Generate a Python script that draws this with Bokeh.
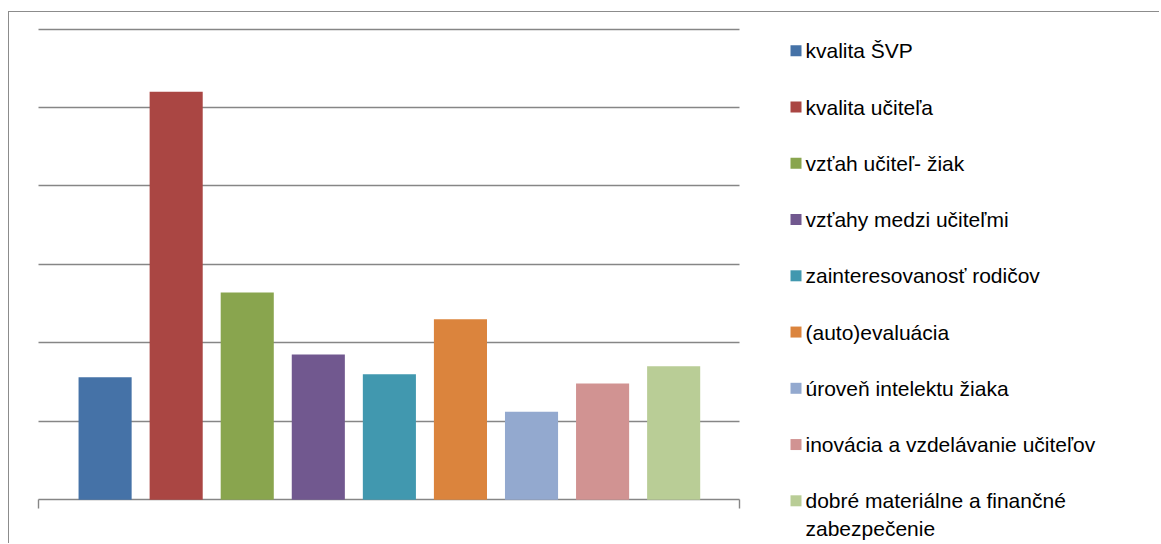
from bokeh.plotting import figure
from bokeh.models import ColumnDataSource, FixedTicker, Range1d, Grid
from bokeh.core.properties import value
from bokeh.embed import file_html
from bokeh.resources import INLINE

# ---- data ----
categories = [
    "kvalita ŠVP",
    "kvalita učiteľa",
    "vzťah učiteľ- žiak",
    "vzťahy medzi učiteľmi",
    "zainteresovanosť rodičov",
    "(auto)evaluácia",
    "úroveň intelektu žiaka",
    "inovácia a vzdelávanie učiteľov",
    "dobré materiálne a finančné zabezpečenie",
]
values = [7.8, 26.0, 13.2, 9.25, 8.0, 11.5, 5.6, 7.4, 8.5]
colors = ["#4572A7", "#AA4643", "#89A54E", "#71588F", "#4198AF",
          "#DB843D", "#93A9CF", "#D19392", "#B9CD96"]
y_ticks = [0, 5, 10, 15, 20, 25, 30]
legend_labels = [
    "kvalita ŠVP",
    "kvalita učiteľa",
    "vzťah učiteľ- žiak",
    "vzťahy medzi učiteľmi",
    "zainteresovanosť rodičov",
    "(auto)evaluácia",
    "úroveň intelektu žiaka",
    "inovácia a vzdelávanie učiteľov",
    "dobré materiálne a finančné\nzabezpečenie",
]

GRID = "#868686"
FONT = "Liberation Sans"

# ---- layout constants (pixels) ----
FW, FH = 1129, 523          # frame size
PX_X = 71.07                # pixels per category step
PX_Y = 15.69                # pixels per value unit
FIRST_C = 74.6              # px from frame left to first bar centre
ZERO_Y = 479.2              # px from frame top to value 0
PLOT_L, PLOT_R = 8.0, 709.3 # px from frame left: plot area edges

x_start = 1 - FIRST_C / PX_X
x_end = x_start + FW / PX_X
y_end = ZERO_Y / PX_Y
y_start = y_end - FH / PX_Y
plot_x0 = x_start + PLOT_L / PX_X
plot_x1 = x_start + PLOT_R / PX_X

src = ColumnDataSource(dict(
    x=list(range(1, len(values) + 1)),
    value=values,
    color=colors,
    name=categories,
))

p = figure(frame_width=FW, frame_height=FH,
           x_range=Range1d(x_start, x_end), y_range=Range1d(y_start, y_end),
           x_axis_location=None, y_axis_location=None,
           output_backend="svg", toolbar_location=None,
           min_border_left=21, min_border_right=0,
           min_border_top=8, min_border_bottom=0,
           styles={"border-left": "1px solid #8c8c8c",
                   "border-top": "1px solid #8c8c8c",
                   "margin": "11px 0 0 8px"})
p.grid.visible = False
p.outline_line_color = None
p.background_fill_color = "white"
p.border_fill_color = "white"

# horizontal gridlines (value axis), limited to the plot area
p.add_layout(Grid(dimension=1, ticker=FixedTicker(ticks=y_ticks),
                  cross_bounds=(plot_x0, plot_x1),
                  grid_line_color=GRID, grid_line_width=1.4))
# the two end tick marks of the category axis
p.add_layout(Grid(dimension=0, ticker=FixedTicker(ticks=[plot_x0, plot_x1]),
                  cross_bounds=(-8.5 / PX_Y, 0),
                  grid_line_color=GRID, grid_line_width=1.4))

p.vbar(x="x", top="value", bottom=0, width=0.747, source=src,
       fill_color="color", line_color=None)

# ---- legend (frame-relative pixel ranges) ----
p.extra_x_ranges["leg"] = Range1d(0, FW)
p.extra_y_ranges["leg"] = Range1d(FH, 0)

n = len(legend_labels)
first_center, pitch = 30.3, 56.25
cy = [first_center + pitch * i for i in range(n)]
lsrc = ColumnDataSource(dict(
    sx=[765.5] * n, sy=cy,
    tx=[775.0] * n, ty=[c - 11.4 for c in cy],
    label=legend_labels, color=colors,
))
p.scatter(x="sx", y="sy", source=lsrc, marker="square", size=11,
          fill_color="color", line_color=None,
          x_range_name="leg", y_range_name="leg")
p.text(x="tx", y="ty", text="label", source=lsrc,
       text_font=value(FONT), text_font_size="21px", text_color="#000000",
       text_baseline="top", text_align="left", text_line_height=1.18,
       x_range_name="leg", y_range_name="leg")

open("out.html", "w").write(file_html(p, INLINE))
